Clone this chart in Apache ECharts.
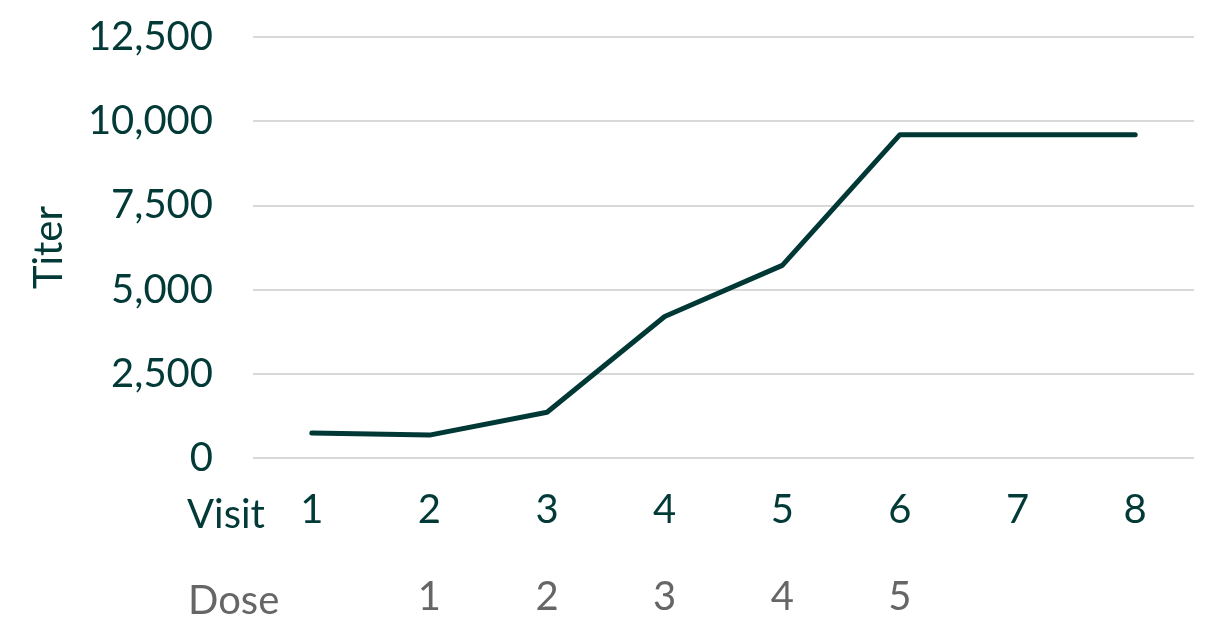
<!DOCTYPE html>
<html>
<head>
<meta charset="utf-8">
<script src="https://cdn.jsdelivr.net/npm/echarts@6/dist/echarts.min.js"></script>
<style>
html,body{margin:0;padding:0;background:#fff;overflow:hidden;}
#chart{width:1207px;height:617px;}
</style>
</head>
<body>
<div id="chart"></div>
<script>
const visits = ['1','2','3','4','5','6','7','8'];
const doses = ['', '1', '2', '3', '4', '5', '', ''];
const titer = [740, 680, 1360, 4200, 5720, 9600, 9600, 9600];
const yTicks = { min: 0, max: 12500, interval: 2500 };

const dark = '#023a37';
const gray = '#666666';
const font = 'Lato';

const chart = echarts.init(document.getElementById('chart'));
chart.setOption({
  animation: false,
  textStyle: { fontFamily: font },
  grid: { left: 253, right: 13, top: 37, bottom: 154 },
  xAxis: [
    {
      type: 'category', data: visits, boundaryGap: true, position: 'bottom',
      axisLine: { show: false }, axisTick: { show: false },
      axisLabel: { color: dark, fontSize: 40, fontFamily: font, margin: 32 }
    },
    {
      type: 'category', data: doses, boundaryGap: true, position: 'bottom', offset: 87,
      axisLine: { show: false }, axisTick: { show: false },
      axisLabel: { color: gray, fontSize: 40, fontFamily: font, margin: 32 }
    }
  ],
  yAxis: {
    type: 'value', min: yTicks.min, max: yTicks.max, interval: yTicks.interval,
    name: 'Titer', nameLocation: 'middle', nameRotate: 90, nameGap: 184,
    nameTextStyle: { color: dark, fontSize: 40, fontFamily: font },
    axisLine: { show: false }, axisTick: { show: false },
    axisLabel: {
      color: dark, fontSize: 40, fontFamily: font, margin: 40,
      formatter: v => v.toLocaleString('en-US')
    },
    splitLine: { lineStyle: { color: '#d9d9d9', width: 2 } }
  },
  graphic: [
    { type: 'text', left: 187, top: 495, style: { text: 'Visit', fill: dark, font: '40px ' + font } },
    { type: 'text', left: 188, top: 581, style: { text: 'Dose', fill: gray, font: '40px ' + font } }
  ],
  series: [{
    type: 'line', data: titer, xAxisIndex: 0, showSymbol: false,
    lineStyle: { color: '#003835', width: 5, cap: 'round', join: 'round' }
  }]
});
</script>
</body>
</html>
